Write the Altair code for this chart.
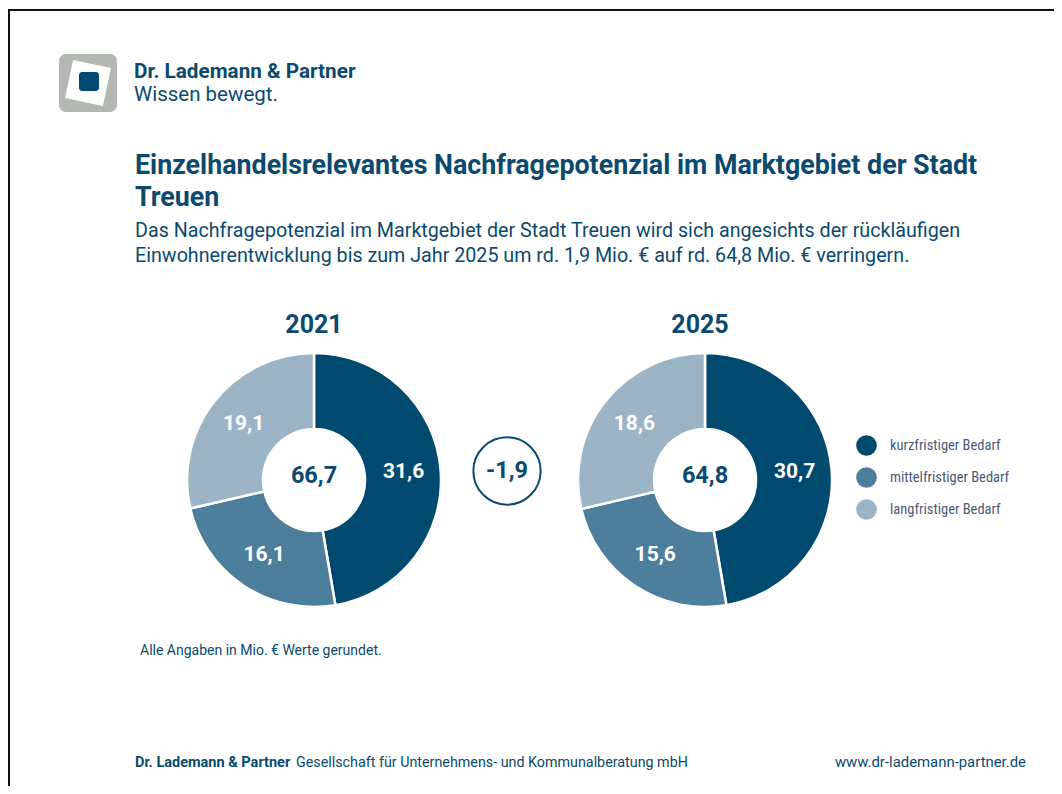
import altair as alt
import pandas as pd

# ---- data ----
categories = ["kurzfristiger Bedarf", "mittelfristiger Bedarf", "langfristiger Bedarf"]
values_2021 = [31.6, 16.1, 19.1]
values_2025 = [30.7, 15.6, 18.6]
total_2021 = "66,7"
total_2025 = "64,8"
change_label = "-1,9"
years = ["2021", "2025"]
colors = ["#004a70", "#4d7f9c", "#9bb5c7"]

title_lines = ["Einzelhandelsrelevantes Nachfragepotenzial im Marktgebiet der Stadt", "Treuen"]
subtitle_lines = [
    "Das Nachfragepotenzial im Marktgebiet der Stadt Treuen wird sich angesichts der rückläufigen",
    "Einwohnerentwicklung bis zum Jahr 2025 um rd. 1,9 Mio. € auf rd. 64,8 Mio. € verringern.",
]
note = "Alle Angaben in Mio. € Werte gerundet."
footer_bold = "Dr. Lademann & Partner"
footer_text = "Gesellschaft für Unternehmens- und Kommunalberatung mbH"
footer_url = "www.dr-lademann-partner.de"
brand = "Dr. Lademann & Partner"
slogan = "Wissen bewegt."

W, H = 1046, 778
DARK = "#0b4a6e"
NARROW = "Liberation Sans Narrow, Roboto Condensed, DejaVu Sans Condensed, sans-serif"
ROBOTO = "Roboto"


def fmt(v):
    return f"{v:.1f}".replace(".", ",")


def pie_df(vals):
    return pd.DataFrame({
        "cat": categories,
        "idx": list(range(len(categories))),
        "value": vals,
        "label": [fmt(v) for v in vals],
    })


color_scale = alt.Scale(domain=categories, range=colors)
blank = alt.Data(values=[{"a": 1}])


def txt(text, x, y, size, weight="normal", color=DARK, align="left", baseline="alphabetic", font=ROBOTO):
    return alt.Chart(blank).mark_text(
        text=text, align=align, baseline=baseline, fontSize=size, fontWeight=weight,
        color=color, font=font
    ).encode(x=alt.value(x), y=alt.value(y))


def pie(vals, cx, cy, show_legend):
    base = alt.Chart(pie_df(vals)).encode(
        theta=alt.Theta("value:Q", stack=True),
        order=alt.Order("idx:Q"),
        x=alt.value(cx), y=alt.value(cy),
    )
    arcs = base.mark_arc(outerRadius=127, innerRadius=51, stroke="white", strokeWidth=2.5).encode(
        color=alt.Color(
            "cat:N", scale=color_scale, sort=categories,
            legend=alt.Legend(
                orient="none", legendX=848, legendY=427, title=None,
                symbolType="circle", symbolSize=430, symbolStrokeWidth=0,
                labelFont=NARROW, labelFontSize=14.5, labelColor="#4b5b78",
                labelOffset=13, rowPadding=11,
            ) if show_legend else None,
        )
    )
    labels = base.mark_text(radius=90, fontSize=21, fontWeight="bold", color="white",
                            font=ROBOTO).encode(text="label:N")
    return arcs + labels


layers = []
# frame
layers.append(alt.Chart(blank).mark_rule(color="#111", strokeWidth=2).encode(
    x=alt.value(0), x2=alt.value(W), y=alt.value(2)))
layers.append(alt.Chart(blank).mark_rule(color="#111", strokeWidth=2).encode(
    x=alt.value(1), y=alt.value(2), y2=alt.value(H)))

# logo
layers.append(alt.Chart(blank).mark_rect(color="#b3b8b2", cornerRadius=7).encode(
    x=alt.value(51), x2=alt.value(109), y=alt.value(46), y2=alt.value(104)))
layers.append(alt.Chart(blank).mark_point(shape="square", filled=True, color="white", opacity=1,
                                          size=1500, angle=12).encode(
    x=alt.value(80), y=alt.value(75)))
layers.append(alt.Chart(blank).mark_rect(color="#004a70", cornerRadius=3).encode(
    x=alt.value(71), x2=alt.value(91), y=alt.value(64), y2=alt.value(83)))
layers.append(txt(brand, 126, 70, 20.7, "bold"))
layers.append(txt(slogan, 126, 93, 20.5))

# titles
layers.append(txt(title_lines[0], 127, 166, 26.8, "bold"))
layers.append(txt(title_lines[1], 127, 198, 26.8, "bold"))
layers.append(txt(subtitle_lines[0], 127, 229, 19.7))
layers.append(txt(subtitle_lines[1], 127, 254, 19.7))

# pies
c1x, c2x, cy = 306, 697, 472
layers.append(pie(values_2021, c1x, cy, True))
layers.append(pie(values_2025, c2x, cy, False))
layers.append(txt(years[0], 306, 317, 25, "bold", align="center", baseline="middle"))
layers.append(txt(years[1], 692, 317, 25, "bold", align="center", baseline="middle"))
layers.append(txt(total_2021, c1x, 468, 23.5, "bold", align="center", baseline="middle"))
layers.append(txt(total_2025, c2x, 468, 23.5, "bold", align="center", baseline="middle"))

# change circle
layers.append(alt.Chart(blank).mark_point(shape="circle", filled=False, color=DARK, strokeWidth=2,
                                          size=4530, opacity=1).encode(
    x=alt.value(499), y=alt.value(463)))
layers.append(txt(change_label, 499, 463, 23.5, "bold", align="center", baseline="middle"))

# notes and footer
layers.append(txt(note, 132, 647, 14))
layers.append(txt(footer_bold, 127, 759, 14.5, "bold"))
layers.append(txt(footer_text, 288, 759, 14.3))
layers.append(txt(footer_url, 1018, 759, 14.9, align="right"))

chart = alt.layer(*layers).resolve_scale(theta="independent").properties(
    width=W, height=H, autosize=alt.AutoSizeParams(type="none"), padding=0,
    background="white",
).configure_view(stroke=None)

chart.save("out.html", embed_options={"renderer": "svg", "actions": False})
